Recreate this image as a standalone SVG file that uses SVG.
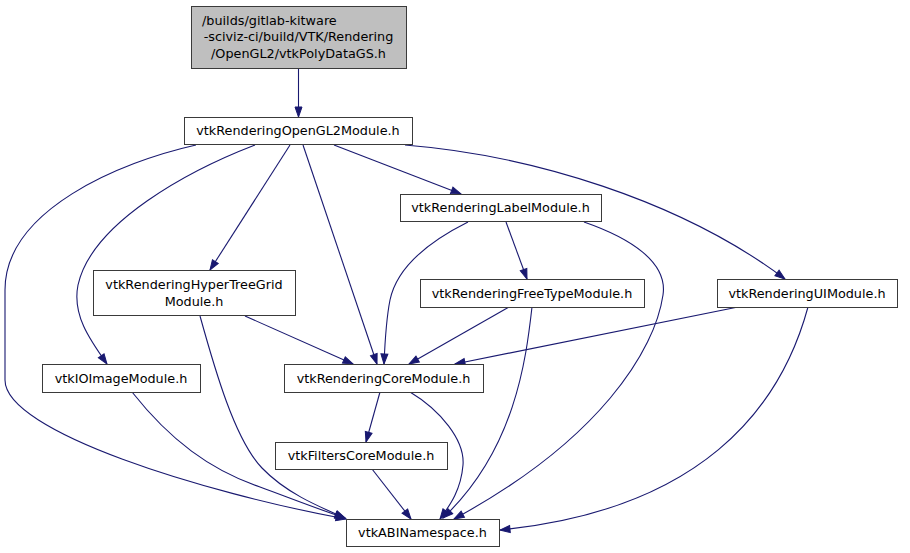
<svg xmlns="http://www.w3.org/2000/svg" width="910" height="553" viewBox="0 0 910 553">
<style>
.box{fill:#ffffff;stroke:#3a3a3a;stroke-width:1}
.root{fill:#bfbfbf;stroke:#3a3a3a;stroke-width:1}
.lbl{font-family:"DejaVu Sans","Liberation Sans",sans-serif;font-size:12.8px;fill:#000000;text-anchor:middle}
.edge{fill:none;stroke:#191970;stroke-width:1.1;marker-end:url(#arr)}
</style>
<defs>
<marker id="arr" markerUnits="userSpaceOnUse" markerWidth="11" markerHeight="8" refX="10" refY="3.5" orient="auto" overflow="visible">
<path d="M0,0 L10,3.5 L0,7 z" fill="#191970" stroke="#191970" stroke-width="1"/>
</marker>
</defs>
<rect x="0" y="0" width="910" height="553" fill="#ffffff"/>
<g id="edges">
<path class="edge" d="M298.5,68 L298.5,117"/>
<path class="edge" d="M196,145 C120,162 5,210 5,290 L5,380 C5,432 205,493 346,519"/>
<path class="edge" d="M255,145 C190,170 92,222 78,285 C72,315 90,340 107,364"/>
<path class="edge" d="M290,145 L210,270"/>
<path class="edge" d="M303,145 L377,364"/>
<path class="edge" d="M334,145 L461,194"/>
<path class="edge" d="M405,145 C530,155 680,200 785,279"/>
<path class="edge" d="M468,222 C440,236 398,262 390,300 C386,320 385,340 384,364"/>
<path class="edge" d="M506,222 L527,279"/>
<path class="edge" d="M584,222 C630,238 668,262 663,295 C655,350 600,440 454,519"/>
<path class="edge" d="M509,307 L409,364"/>
<path class="edge" d="M532,307 C526,360 515,450 443,518"/>
<path class="edge" d="M738,307 L455,364"/>
<path class="edge" d="M808,307 C780,410 700,510 500,530"/>
<path class="edge" d="M245,316 L353,364"/>
<path class="edge" d="M200,316 C215,370 235,440 262,468 C285,492 315,505 345,518"/>
<path class="edge" d="M132,392 C170,440 210,470 260,487 C290,498 315,508 345,518"/>
<path class="edge" d="M380,392 L366,442"/>
<path class="edge" d="M410,392 C440,410 465,440 463,465 C461,490 450,505 440,519"/>
<path class="edge" d="M372,469 L411,519"/>
</g>
<g id="node_root">
<rect class="root" x="191.5" y="6.5" width="215" height="62"/>
<text class="lbl" x="202" y="24.5" style="text-anchor:start">/builds/gitlab-kitware</text>
<text class="lbl" x="298.5" y="41">-sciviz-ci/build/VTK/Rendering</text>
<text class="lbl" x="298.5" y="57.5">/OpenGL2/vtkPolyDataGS.h</text>
</g>
<g id="node_opengl2">
<rect class="box" x="184.5" y="117.5" width="228" height="27"/>
<text class="lbl" x="298" y="135">vtkRenderingOpenGL2Module.h</text>
</g>
<g id="node_label">
<rect class="box" x="400.5" y="194.5" width="201" height="27"/>
<text class="lbl" x="500.5" y="212">vtkRenderingLabelModule.h</text>
</g>
<g id="node_freetype">
<rect class="box" x="420.5" y="279.5" width="224" height="28"/>
<text class="lbl" x="532" y="297.5">vtkRenderingFreeTypeModule.h</text>
</g>
<g id="node_ui">
<rect class="box" x="717.5" y="279.5" width="180" height="28"/>
<text class="lbl" x="807" y="297.5">vtkRenderingUIModule.h</text>
</g>
<g id="node_htg">
<rect class="box" x="93.5" y="270.5" width="202" height="45"/>
<text class="lbl" x="194" y="289">vtkRenderingHyperTreeGrid</text>
<text class="lbl" x="194" y="306">Module.h</text>
</g>
<g id="node_ioimage">
<rect class="box" x="42.5" y="364.5" width="158" height="28"/>
<text class="lbl" x="121" y="382.5">vtkIOImageModule.h</text>
</g>
<g id="node_core">
<rect class="box" x="284.5" y="364.5" width="199" height="28"/>
<text class="lbl" x="383.5" y="382.5">vtkRenderingCoreModule.h</text>
</g>
<g id="node_filters">
<rect class="box" x="275.5" y="442.5" width="172" height="27"/>
<text class="lbl" x="361" y="460">vtkFiltersCoreModule.h</text>
</g>
<g id="node_abi">
<rect class="box" x="346.5" y="519.5" width="153" height="27"/>
<text class="lbl" x="422.5" y="537">vtkABINamespace.h</text>
</g>
</svg>
